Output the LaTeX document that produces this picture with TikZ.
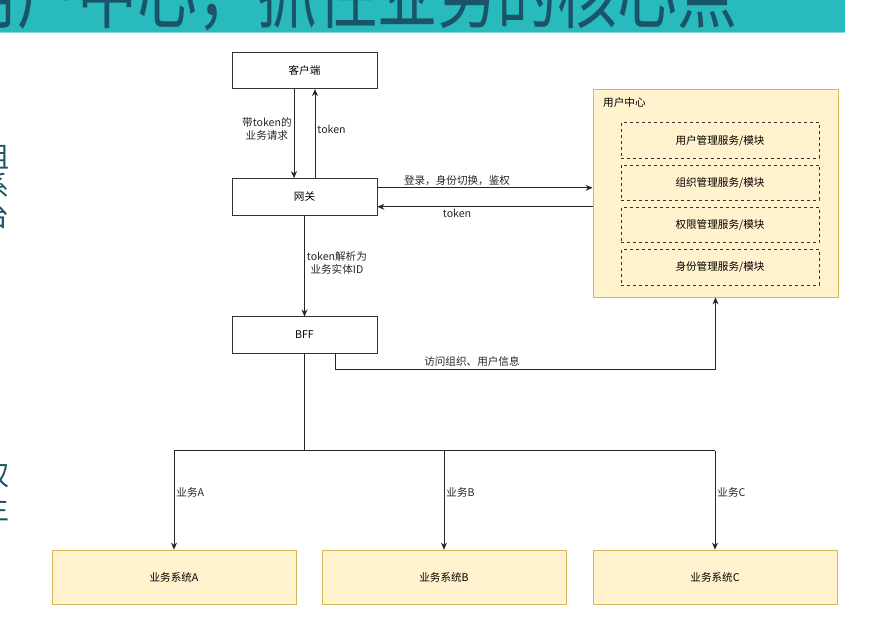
\documentclass[tikz,border=0pt]{standalone}
\usepackage{fontspec}
\setmainfont{Noto Sans CJK SC}
\usepackage{tikz}
\usetikzlibrary{arrows.meta,positioning}
\definecolor{hdrteal}{HTML}{29BABD}
\definecolor{hdrtext}{HTML}{1A5468}
\definecolor{boxfill}{HTML}{FFF2CC}
\definecolor{boxline}{HTML}{D6B656}

\begin{document}
\begin{tikzpicture}[
    x=1pt, y=-1pt,
    node distance=6pt and 6pt,
    font=\fontsize{10.6}{12}\selectfont,
    plainbox/.style={draw=black!80, fill=white, line width=0.8pt, minimum width=145pt, minimum height=36.5pt, inner sep=0pt},
    sysbox/.style={draw=boxline, fill=boxfill, line width=0.8pt, minimum width=244pt, minimum height=54pt, inner sep=0pt},
    modbox/.style={draw=black!80, dashed, line width=0.7pt, minimum width=198pt, minimum height=35.5pt, inner sep=0pt},
    lbl/.style={inner sep=2pt, align=center, font=\fontsize{10.6}{13.5}\selectfont},
    myarrow/.style={-{Stealth[length=7pt,width=6pt]}, line width=0.8pt, black!85}
]
\useasboundingbox (0,0) rectangle (895,632);

\begin{scope}
\clip (0,0) rectangle (845,33);
\fill[hdrteal] (0,0) rectangle (845,33);
\draw[hdrteal!55!white, line width=1pt] (0,32.5) -- (845,32.5);
\node[anchor=base west, inner sep=0pt, text=hdrtext, font=\fontsize{60}{60}\selectfont] (title) at (-43,22) {\scalebox{1}[1.3]{用户中心，抓住业务的核心点}};
\end{scope}

\begin{scope}[every node/.style={anchor=east, inner sep=0pt, text=hdrtext, font=\fontsize{28}{28}\selectfont}]
\node (frag1) at (10,157) {组};
\node (frag2) at (10,186) {系};
\node (frag3) at (10,216) {台};
\node (frag4) at (10,475) {权};
\node (frag5) at (10,508) {生};
\end{scope}

\node[plainbox] (client) at (304.5,70.5) {客户端};
\node[plainbox, below=89pt of client] (gateway) {网关};
\node[plainbox, below=101pt of gateway] (bff) {BFF};

\node[sysbox, minimum width=245pt, minimum height=208pt] (ucenter) at (715.5,193) {};
\node[anchor=west, inner sep=0pt] (uctitle) at (603,102) {用户中心};
\node[modbox] (mod1) at (720,140.5) {用户管理服务/模块};
\node[modbox, below=of mod1] (mod2) {组织管理服务/模块};
\node[modbox, below=of mod2] (mod3) {权限管理服务/模块};
\node[modbox, below=of mod3] (mod4) {身份管理服务/模块};

\node[sysbox] (sysA) at (174,577) {业务系统A};
\node[sysbox] (sysB) at (444,577) {业务系统B};
\node[sysbox] (sysC) at (715,577) {业务系统C};

\draw[myarrow] ([xshift=-10.5pt]client.south) -- ([xshift=-10.5pt]gateway.north)
    node[lbl, left, pos=0.45] {带token的\\业务请求};
\draw[myarrow] ([xshift=10.5pt]gateway.north) -- ([xshift=10.5pt]client.south)
    node[lbl, right, pos=0.55] {token};

\draw[myarrow] ([yshift=9pt]gateway.east) -- ([yshift=9pt]gateway.east -| ucenter.west)
    node[lbl, above, pos=0.37] {登录，身份切换，鉴权};
\draw[myarrow] ([yshift=-10pt]gateway.east -| ucenter.west) -- ([yshift=-10pt]gateway.east)
    node[lbl, below, pos=0.63] {token};

\draw[myarrow] (gateway.south) -- (bff.north)
    node[lbl, right, pos=0.47] {token解析为\\业务实体ID};

\draw[myarrow] ([xshift=30.5pt]bff.south) |- (ucenter.south |- 0,369)
    node[lbl, above, pos=0.68] {访问组织、用户信息} -- (ucenter.south);

\coordinate (split) at (bff.south |- 0,450.5);
\draw[line width=0.8pt, black!85] (bff.south) -- (split);
\draw[line width=0.8pt, black!85] (sysA.north |- split) -- (sysC.north |- split);
\foreach \s/\t in {sysA/业务A, sysB/业务B, sysC/业务C}
    \draw[myarrow] (\s.north |- split) -- (\s.north) node[lbl, right, pos=0.42] {\t};
\end{tikzpicture}
\end{document}
